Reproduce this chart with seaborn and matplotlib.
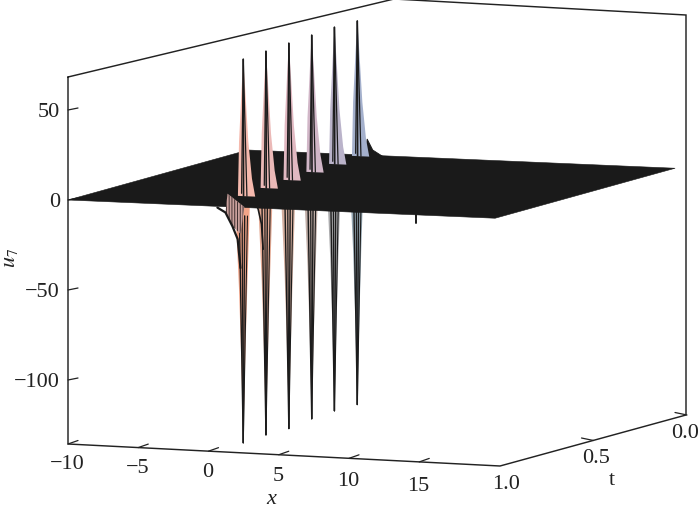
import numpy as np
import matplotlib
matplotlib.use("Agg")
import matplotlib.pyplot as plt
from matplotlib.patches import Polygon
import seaborn as sns

# ---- values ----
spike_x = [-0.05, -0.42, -0.79, -1.16, -1.53, -1.90]
spike_t = [0.803, 0.648, 0.492, 0.336, 0.181, 0.025]
spike_max = [76, 76, 76, 76, 76, 75]
spike_min = [-137, -137, -138, -137, -137, -138]
# cross-section of one spike at fixed t (x offset, share of the peak)
up_dx = [-0.38, -0.30, -0.12, 0.0, 0.14, 0.36, 0.62, 0.85]
up_share = [0.0, 0.40, 0.78, 1.0, 0.78, 0.40, 0.13, 0.0]
down_dx = [-0.56, -0.50, -0.30, -0.15, 0.0, 0.15, 0.28, 0.42, 0.48]
down_share = [0.0, 0.13, 0.38, 0.65, 1.0, 0.65, 0.38, 0.13, 0.0]
# the sheet lifts behind the last spike
rim_dx = [0.55, 0.70, 1.10, 1.90]
rim_share = [0.0, 0.13, 0.05, 0.0]
# left shoulder of the first two dips
shoulder1_dx = [-1.84, -1.27, -0.77, -0.40, -0.2]
shoulder1_u = [-7, -9.5, -17, -24, -40]
shoulder2_dx = [-0.70, -0.55, -0.32, -0.2]
shoulder2_u = [-9, -12, -20, -34]
patch_dx = [-1.12, 0.08, -0.20, -0.77, -1.27]
patch_u = [1, -6, -21, -17, -9.5]
small_dip_x, small_dip_t, small_dip_u = 11.2, 0.72, -13.5
x_ticks = [-10, -5, 0, 5, 10, 15]
t_ticks = [1.0, 0.5, 0.0]
u_ticks = [50, 0, -50, -100]

# ---- view of the box on the page ----
def project(x, t, u):
    x, t, u = np.asarray(x, float), np.asarray(t, float), np.asarray(u, float)
    px = 68 + (x + 10) * 14.05 + (1 - t) * 180
    py = 201 + (x + 10) * 0.6 - (1 - t) * 50 - u * 1.8
    return px, py

def pts(x, t, u):
    px, py = project(x, t, u)
    shape = np.broadcast(px, py).shape
    return np.column_stack([np.broadcast_to(px, shape), np.broadcast_to(py, shape)])

sns.set_theme(style="white")
plt.rcParams["font.family"] = ["Liberation Serif", "DejaVu Serif"]
plt.rcParams["mathtext.fontset"] = "stix"
plt.rcParams["hatch.linewidth"] = 0.7
INK = "#1a1a1a"
TXT = "#222222"
FS = 16
up_cols = sns.blend_palette(["#f5b9ad", "#dcb8c6", "#a4b0cc"], 6)
down_cols = sns.blend_palette(["#f2a488", "#cdb0a4", "#93a6b2"], 6)

fig = plt.figure(figsize=(7, 5.1), dpi=100)
ax = fig.add_axes([0, 0, 1, 1])
ax.set_xlim(0, 700)
ax.set_ylim(510, 0)
ax.axis("off")

# frame of the box
frame_px = [68, 394, 686, 686, 500, 68, 68]
frame_py = [78, 0, 16, 416, 467, 445, 78]
ax.plot(frame_px, frame_py, color=TXT, lw=1.05, solid_joinstyle="miter", clip_on=False)

# ticks
for v in u_ticks:
    a = project(-10, 1, v)
    ax.plot([a[0], a[0] + 10], [a[1], a[1] - 2], color=TXT, lw=0.9)
    ax.text(60, a[1] + 1.5, str(v).replace("-", "\u2212"), ha="right", va="center", fontsize=FS, color=TXT)
x_label_y = [465, 469, 473, 477, 482, 487]
for v, ly in zip(x_ticks, x_label_y):
    a = (68 + (v + 10) * 14.05, 445 + (v + 10) * 0.051 * 14.05)
    ax.plot([a[0], a[0] + 10], [a[1], a[1] - 3.5], color=TXT, lw=0.9)
    ax.text(a[0] - 1, ly, str(v).replace("-", "\u2212"), ha="center", va="center", fontsize=FS, color=TXT)
t_label_pos = [(506, 485), (596, 459), (685, 434)]
for v, (lx, ly) in zip(t_ticks, t_label_pos):
    a = (500 + (1 - v) * 187, 467 - (1 - v) * 51)
    if v < 1:
        ax.plot([a[0], a[0] - 12], [a[1], a[1] - 2.5], color=TXT, lw=0.9)
    ax.text(lx, ly, f"{v:.1f}", ha="center", va="center", fontsize=FS, color=TXT)
ax.text(271, 500, "x", style="italic", ha="center", va="center", fontsize=FS, color=TXT)
ax.text(612, 481, "t", ha="center", va="center", fontsize=FS, color=TXT)
ax.text(11, 258, r"$u_7$", rotation=90, ha="center", va="center", fontsize=FS, color=TXT)

# downward spikes (they hang under the sheet)
for i, (x0, t0, lo) in enumerate(zip(spike_x, spike_t, spike_min)):
    poly = pts(x0 + np.array(down_dx), t0, lo * np.array(down_share))
    ax.add_patch(Polygon(poly, closed=True, fc=down_cols[i], ec="none", zorder=2))
    tip = pts(x0, t0, lo)[0]
    for d, s, lw in [(-0.28, 0.08, 1.0), (0.10, 0.08, 1.0), (-0.08, 0.08, 0.9), (0.30, 0.08, 0.8)]:
        top = pts(x0 + d, t0, lo * s)[0]
        ax.plot([tip[0], top[0]], [tip[1], top[1]], color="#1c1c1c", lw=lw, zorder=3)

# shoulders of the first two dips
line1 = pts(spike_x[0] + np.array(shoulder1_dx), spike_t[0], shoulder1_u)
ax.plot(line1[:, 0], line1[:, 1], color=INK, lw=1.6, zorder=6)
line2 = pts(spike_x[1] + np.array(shoulder2_dx), spike_t[1], shoulder2_u)
ax.plot(line2[:, 0], line2[:, 1], color=INK, lw=1.2, zorder=3)

# small dip at the front edge
a = pts(small_dip_x, small_dip_t, 0)[0]
b = pts(small_dip_x, small_dip_t, small_dip_u)[0]
ax.plot([a[0], b[0]], [a[1], b[1]], color=INK, lw=1.4, zorder=3)

# the flat sheet u = 0
sheet = pts([-10, 20.4, 20.4, -10], [1, 1, 0, 0], 0)
ax.add_patch(Polygon(sheet, closed=True, fc=INK, ec=INK, lw=0.4, zorder=4))

# hatched wall beside the first dip
wall = pts(spike_x[0] + np.array(patch_dx), spike_t[0], patch_u)
ax.add_patch(Polygon(wall, closed=True, fc="#c9a09c", ec="#3f3030", lw=0, hatch="||||||", zorder=5))

# lift behind the last spike
rim = pts(spike_x[-1] + np.array(rim_dx), spike_t[-1], spike_max[-1] * np.array(rim_share))
ax.add_patch(Polygon(rim, closed=True, fc=INK, ec=INK, lw=0.6, zorder=5))

# upward spikes
for i, (x0, t0, hi) in enumerate(zip(spike_x, spike_t, spike_max)):
    poly = pts(x0 + np.array(up_dx), t0, hi * np.array(up_share))
    ax.add_patch(Polygon(poly, closed=True, fc=up_cols[i], ec="none", zorder=6))
    tip = pts(x0, t0, hi)[0]
    for d, s, lw in [(-0.12, 0.02, 0.9), (0.02, 0.0, 1.2), (0.26, 0.0, 0.9)]:
        foot = pts(x0 + d, t0, hi * s)[0]
        ax.plot([tip[0], foot[0]], [tip[1], foot[1]], color="#1c1c1c", lw=lw, zorder=7)

fig.savefig("out.png", dpi=100)
